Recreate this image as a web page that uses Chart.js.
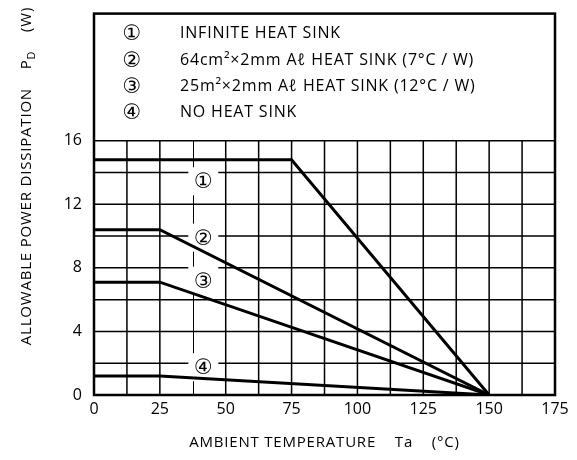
<!DOCTYPE html>
<html lang="en">
<head>
  <meta charset="UTF-8" />
  <title>Allowable Power Dissipation</title>
  <script src="https://cdn.jsdelivr.net/npm/chart.js"></script>
  <style>
    * { box-sizing: border-box; margin: 0; padding: 0; }
    body { background: #fff; }
    .wrap { width: 577px; height: 460px; }
  </style>
</head>
<body>
  <div class="wrap"><canvas id="pdChart" width="577" height="460"></canvas></div>

  <script>
    // curve data: ambient temperature (°C) vs allowable power (W)
    const tempsInfinite = [0, 75, 150];
    const pdInfinite = [14.8, 14.8, 0];
    const tempsSink = [0, 25, 150];
    const pd64cm = [10.4, 10.4, 0];
    const pd25m = [7.1, 7.1, 0];
    const pdNoSink = [1.2, 1.2, 0];

    const curveMarks = ["①", "②", "③", "④"];
    const markX = [41.5, 41.5, 41.5, 41.5];
    const markY = [13.45, 9.9, 7.2, 1.75];

    const legendText = [
      "INFINITE HEAT SINK",
      "64cm²×2mm Aℓ HEAT SINK (7°C / W)",
      "25m²×2mm Aℓ HEAT SINK (12°C / W)",
      "NO HEAT SINK"
    ];

    const xTicks = [0, 25, 50, 75, 100, 125, 150, 175];
    const yTicks = [0, 4, 8, 12, 16];
    const gridTop = 16;

    const FONT = '"Open Sans", "DejaVu Sans", sans-serif';

    function pts(xs, ys) {
      return xs.map((x, i) => ({ x: x, y: ys[i] }));
    }
    function curve(xs, ys) {
      return { data: pts(xs, ys), borderColor: "#000", borderWidth: 3, pointRadius: 0, tension: 0, fill: false };
    }

    const gridPlugin = {
      id: "grid",
      beforeDatasetsDraw(chart) {
        const { ctx, chartArea: a, scales: { x, y } } = chart;
        const yTop = y.getPixelForValue(gridTop);
        ctx.save();
        ctx.strokeStyle = "#000";
        ctx.lineWidth = 1.5;
        ctx.beginPath();
        for (let v = 0; v <= gridTop; v += 2) {
          const py = y.getPixelForValue(v);
          ctx.moveTo(a.left, py); ctx.lineTo(a.right, py);
        }
        for (let v = 0; v <= 175; v += 12.5) {
          if (v === 37.5) continue;
          const px = x.getPixelForValue(v);
          ctx.moveTo(px, yTop); ctx.lineTo(px, a.bottom);
        }
        ctx.stroke();
        // thinner line at 37.5
        ctx.lineWidth = 1;
        ctx.beginPath();
        const pm = Math.round(x.getPixelForValue(37.5)) + 0.5;
        ctx.moveTo(pm, yTop); ctx.lineTo(pm, a.bottom);
        ctx.stroke();

        // curve markers with white boxes
        ctx.font = "21px " + FONT;
        ctx.textAlign = "center";
        ctx.textBaseline = "middle";
        curveMarks.forEach((m, i) => {
          const px = x.getPixelForValue(markX[i]);
          const py = y.getPixelForValue(markY[i]);
          ctx.fillStyle = "#fff";
          ctx.fillRect(px - 15, py - 14, 30, 28);
          ctx.fillStyle = "#000";
          ctx.fillText(m, px, py + 1);
        });
        ctx.restore();
      },
      afterDraw(chart) {
        const { ctx, chartArea: a } = chart;
        ctx.save();
        // frame
        ctx.strokeStyle = "#000";
        ctx.lineWidth = 2.5;
        ctx.strokeRect(a.left, a.top, a.right - a.left, a.bottom - a.top);

        // legend block
        ctx.fillStyle = "#000";
        ctx.textBaseline = "middle";
        const rows = [33, 60, 86, 112];
        legendText.forEach((t, i) => {
          ctx.letterSpacing = "0px";
          ctx.font = "21px " + FONT;
          ctx.textAlign = "center";
          ctx.fillText(curveMarks[i], 132, rows[i] + 1);
          ctx.letterSpacing = "0.8px";
          ctx.font = "16px " + FONT;
          ctx.textAlign = "left";
          ctx.fillText(t, 180, rows[i]);
        });

        // x axis title
        ctx.letterSpacing = "0.8px";
        ctx.font = "15px " + FONT;
        ctx.textAlign = "center";
        ctx.fillText("AMBIENT TEMPERATURE    Ta    (°C)", (a.left + a.right) / 2, 443);

        // y axis title, rotated, with subscript
        ctx.translate(27, 176);
        ctx.rotate(-Math.PI / 2);
        const p1 = "ALLOWABLE POWER DISSIPATION    P";
        const p2 = "D";
        const p3 = "    (W)";
        ctx.font = "15px " + FONT;
        const w1 = ctx.measureText(p1).width;
        const w3 = ctx.measureText(p3).width;
        ctx.font = "11px " + FONT;
        const w2 = ctx.measureText(p2).width;
        let sx = -(w1 + w2 + w3) / 2;
        ctx.textAlign = "left";
        ctx.font = "15px " + FONT;
        ctx.fillText(p1, sx, 0);
        ctx.font = "11px " + FONT;
        ctx.fillText(p2, sx + w1, 5);
        ctx.font = "15px " + FONT;
        ctx.fillText(p3, sx + w1 + w2, 0);
        ctx.restore();
      }
    };

    new Chart(document.getElementById("pdChart"), {
      type: "line",
      data: {
        datasets: [
          curve(tempsInfinite, pdInfinite),
          curve(tempsSink, pd64cm),
          curve(tempsSink, pd25m),
          curve(tempsSink, pdNoSink)
        ]
      },
      options: {
        responsive: false,
        animation: false,
        layout: { padding: { top: 11, right: 22, left: 0, bottom: 0 } },
        plugins: { legend: { display: false }, tooltip: { enabled: false } },
        scales: {
          x: {
            type: "linear",
            min: 0, max: 175,
            grid: { display: false },
            border: { display: false },
            afterBuildTicks: s => { s.ticks = xTicks.map(v => ({ value: v })); },
            ticks: { color: "#000", font: { family: FONT, size: 16 }, padding: -3, maxRotation: 0 },
            afterFit: s => { s.height = 65; }
          },
          y: {
            min: 0, max: 24,
            grid: { display: false },
            border: { display: false },
            afterBuildTicks: s => { s.ticks = yTicks.map(v => ({ value: v })); },
            ticks: { color: "#000", font: { family: FONT, size: 16 }, padding: 4 },
            afterFit: s => { s.width = 94; }
          }
        }
      },
      plugins: [gridPlugin]
    });
  </script>
</body>
</html>
